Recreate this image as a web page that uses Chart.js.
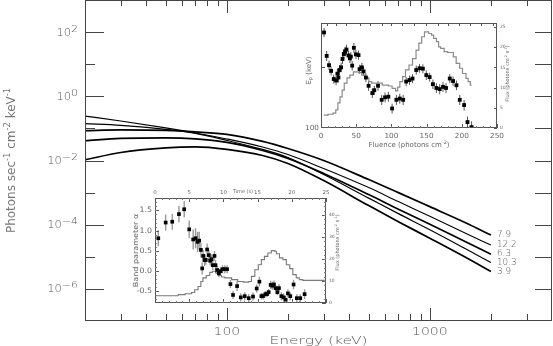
<!DOCTYPE html>
<html>
<head>
<meta charset="utf-8">
<script src="https://cdn.jsdelivr.net/npm/chart.js@4.4.0/dist/chart.umd.min.js"></script>
<style>
  body { margin: 0; background: #fff; }
  #wrap { position: relative; width: 553px; height: 346px; }
  canvas { position: absolute; }
</style>
</head>
<body>
<div id="wrap">
  <canvas id="main" width="553" height="346" style="left:0;top:0"></canvas>
  <canvas id="fluence" width="224" height="140" style="left:296px;top:14px"></canvas>
  <canvas id="alpha" width="232" height="130" style="left:120px;top:180px"></canvas>
</div>
<script>
// ---- main panel: Band spectra at 5 times ----
const energies = [20, 30, 50, 70, 100, 150, 200, 300, 500, 700, 1000, 1500, 2000];
const spec7_9  = [0.0848, 0.0898, 0.0866, 0.0778, 0.0649, 0.0393, 0.0237, 0.0100, 2.55e-3, 1.0e-3, 3.65e-4, 1.155e-4, 4.76e-5];
const spec12_2 = [0.242, 0.171, 0.104, 0.0723, 0.047, 0.0264, 0.0154, 0.00562, 1.43e-3, 5.24e-4, 1.83e-4, 5.42e-5, 2.32e-5];
const spec6_3  = [0.0413, 0.0487, 0.0505, 0.0470, 0.0365, 0.0205, 0.01155, 3.93e-3, 8.66e-4, 3.05e-4, 1.04e-4, 2.94e-5, 1.21e-5];
const spec10_3 = [0.140, 0.124, 0.0931, 0.0698, 0.0422, 0.0221, 0.0124, 0.00365, 6.73e-4, 2.21e-4, 6.98e-5, 1.78e-5, 6.64e-6];
const spec3_9  = [0.01052, 0.01778, 0.0246, 0.0264, 0.0221, 0.01433, 8.06e-3, 2.37e-3, 3.93e-4, 1.24e-4, 3.79e-5, 9.64e-6, 3.47e-6];
const specLabels = ['7.9', '12.2', '6.3', '10.3', '3.9'];
const specWidths = [1.7, 1.1, 1.7, 1.2, 1.7];

const energyMajor = [100, 1000];
const energyMinor = [30, 40, 50, 60, 70, 80, 90, 200, 300, 400, 500, 600, 700, 800, 900, 2000, 3000];
const photonMajor = [1e2, 1e0, 1e-2, 1e-4, 1e-6];
const photonMinor = [1e1, 1e-1, 1e-3, 1e-5];
const photonExp = ['2', '0', '\u22122', '\u22124', '\u22126'];

// ---- upper inset: Epeak vs fluence ----
const fluence = [4.3, 8.1, 11.4, 14.3, 18.1, 21.4, 23.3, 24.8, 26.2, 28.6,
  30.5, 32.4, 34.3, 36.2, 39.0, 41.0, 42.4, 44.3, 46.7, 49.6,
  53.3, 54.8, 58.1, 60.5, 63.8, 67.6, 72.9, 75.7, 81.0, 86.2,
  91.0, 95.7, 101.0, 107.1, 111.9, 116.7, 121.0, 125.7, 130.0, 135.3,
  140.0, 144.7, 149.6, 154.3, 159.0, 163.9, 168.6, 173.3, 177.6, 182.9,
  187.6, 192.4, 197.1, 203.3, 208.1, 213.9];
const epeak = [298, 228, 205, 192, 175, 172, 186, 178, 194, 200,
  220, 233, 240, 245, 229, 222, 226, 204, 250, 232,
  230, 196, 200, 191, 178, 162, 149, 154, 162, 138,
  142, 143, 125, 138, 140, 138, 170, 173, 176, 194,
  198, 197, 183, 179, 165, 158, 156, 160, 158, 176,
  171, 163, 138, 130, 107, 101];
const epeakErr = [16, 13, 11, 10, 9, 9, 10, 10, 11, 11,
  12, 13, 13, 14, 12, 12, 12, 11, 14, 12,
  12, 10, 11, 10, 9, 9, 8, 8, 9, 8,
  8, 8, 7, 8, 8, 8, 9, 9, 9, 10,
  10, 10, 10, 9, 9, 9, 9, 9, 9, 9,
  9, 9, 8, 8, 7, 7];
const fluxFluence = [4, 10, 17, 21, 24, 27, 30, 33, 37, 41, 46, 53, 58, 63, 68, 72, 87, 96, 101, 106,
  109, 112, 116, 120, 125, 130, 135, 139, 143, 147, 153, 157, 160, 164, 167, 170, 175, 180, 188, 192,
  197, 201, 206, 209, 212, 214];
const fluxA = [3.2, 3.4, 3.7, 4.5, 6.2, 7.7, 9.4, 11.1, 12.4, 13.1, 13.9, 13.7, 13.1, 12.4, 11.5, 11.1, 10.6, 10.4, 9.8, 9.2,
  10.1, 11.5, 12.7, 14.4, 15.6, 17.2, 19.3, 21.0, 22.6, 23.8, 23.4, 23.0, 22.2, 21.4, 20.1, 19.7, 18.9, 18.7, 17.6, 16.0,
  14.8, 13.5, 12.3, 11.5, 10.6, 10.6];
const fluenceTicks = [0, 50, 100, 150, 200, 250];
const fluenceTopTicks = [8, 22, 36, 55, 69, 86, 100, 115, 132, 149, 166, 180, 196, 211, 227, 244];
const fluxTicksA = [0, 5, 10, 15, 20, 25];

// ---- lower inset: alpha vs time ----
const times = [0.48, 1.56, 2.52, 3.50, 4.27, 5.00, 5.58, 5.93, 6.22, 6.46,
  6.71, 6.90, 7.04, 7.25, 7.43, 7.62, 7.87, 8.06, 8.27, 8.45,
  8.70, 8.85, 9.08, 9.33, 9.58, 9.87, 10.20, 10.54, 11.03, 11.41,
  12.0, 12.54, 13.12, 13.70, 14.33, 14.87, 15.26, 15.55, 15.79, 16.14,
  16.37, 16.62, 16.91, 17.16, 17.39, 17.64, 17.89, 18.12, 18.47, 18.80,
  19.10, 19.43, 19.78, 20.26, 20.74, 21.24, 21.87];
const alphaVals = [0.81, 1.20, 1.22, 1.41, 1.53, 1.03, 0.78, 0.81, 0.72, 0.75,
  0.52, 0.06, 0.37, 0.27, 0.27, 0.53, 0.39, 0.25, 0.29, 0.14,
  0.37, 0.14, 0.02, -0.06, -0.01, 0.04, 0.04, 0.04, -0.33, -0.60,
  -0.38, -0.66, -0.63, -0.68, -0.64, -0.44, -0.27, -0.63, -0.63, -0.58,
  -0.58, -0.53, -0.35, -0.37, -0.34, -0.43, -0.53, -0.43, -0.63, -0.66,
  -0.72, -0.56, -0.63, -0.34, -0.68, -0.68, -0.58];
const alphaErr = [0.20, 0.20, 0.20, 0.20, 0.20, 0.22, 0.25, 0.25, 0.25, 0.22,
  0.18, 0.15, 0.15, 0.15, 0.12, 0.15, 0.12, 0.12, 0.12, 0.12,
  0.12, 0.12, 0.10, 0.10, 0.10, 0.10, 0.10, 0.10, 0.10, 0.10,
  0.12, 0.10, 0.10, 0.10, 0.10, 0.10, 0.12, 0.08, 0.08, 0.08,
  0.08, 0.08, 0.10, 0.10, 0.10, 0.08, 0.08, 0.10, 0.10, 0.10,
  0.10, 0.10, 0.10, 0.12, 0.10, 0.10, 0.12];
const fluxTime = [0, 2.9, 3.4, 4.4, 5.35, 5.8, 6.3, 6.7, 7.0, 7.5, 8.0, 8.4, 8.85, 9.2, 9.7, 10.2, 11.2, 12.1, 12.9, 13.7,
  14.1, 14.6, 15.1, 15.55, 16.0, 16.5, 17.0, 17.5, 17.75, 18.2, 18.7, 19.2, 19.7, 20.15, 20.65, 21.1, 21.6, 24.8];
const fluxB = [3.3, 3.3, 3.8, 4.2, 4.8, 6.0, 7.5, 9.8, 11.4, 12.5, 13.9, 14.4, 13.6, 12.5, 11.8, 11.4, 10.6, 9.8, 9.5, 9.8,
  12.1, 15.1, 17.4, 19.7, 21.2, 22.7, 23.8, 23.5, 22.4, 20.5, 19.7, 17.4, 15.6, 12.9, 11.4, 10.6, 10.3, 10.3];
const timeTicks = [0, 5, 10, 15, 20, 25];
const alphaTicks = [1.5, 1.0, 0.5, 0.0, -0.5];
const alphaTickText = ['1.5', '1.0', '0.5', '0.0', '-0.5'];
const fluxTicksB = [0, 10, 20, 30, 40];

const TEXT = '#666';
const MAIN_TEXT = '#555';
const THIN = '300 ';

// text stretched sideways, like the wide vector font of the original
function wideText(ctx, text, x, y, size, align, stretch, color, weight) {
  ctx.save();
  ctx.font = (weight || '') + size + 'px "DejaVu Sans"';
  ctx.fillStyle = color || TEXT;
  ctx.textBaseline = 'middle';
  ctx.textAlign = 'left';
  const w = ctx.measureText(text).width * stretch;
  const x0 = align === 'center' ? x - w / 2 : align === 'right' ? x - w : x;
  ctx.translate(x0, y);
  ctx.scale(stretch, 1);
  ctx.fillText(text, 0, 0);
  ctx.restore();
}

// parts: [text, 0 normal | 1 superscript | -1 subscript]
function richText(ctx, parts, x, y, size, opts) {
  const o = Object.assign({align: 'center', rotate: 0, stretch: 1, color: TEXT, weight: '',
    family: '"DejaVu Sans"', sup: 0.7, raise: 0.35}, opts || {});
  ctx.save();
  ctx.translate(x, y);
  ctx.rotate(o.rotate);
  ctx.scale(o.stretch, 1);
  ctx.fillStyle = o.color;
  ctx.textBaseline = 'middle';
  ctx.textAlign = 'left';
  const fontFor = k => o.weight + (k ? size * o.sup : size) + 'px ' + o.family;
  let total = 0;
  parts.forEach(([t, k]) => { ctx.font = fontFor(k); total += ctx.measureText(t).width; });
  let cx = o.align === 'center' ? -total / 2 : o.align === 'right' ? -total : 0;
  parts.forEach(([t, k]) => {
    ctx.font = fontFor(k);
    ctx.fillText(t, cx, k === 1 ? -size * o.raise : k === -1 ? size * 0.3 : 0);
    cx += ctx.measureText(t).width;
  });
  ctx.restore();
}

function frame(ctx, a, color) {
  ctx.save();
  ctx.strokeStyle = color;
  ctx.lineWidth = 1;
  ctx.strokeRect(a.left + 0.5, a.top + 0.5, a.right - a.left - 1, a.bottom - a.top - 1);
  ctx.restore();
}

// inward tick marks placed through the chart's own scale
function tickMarks(ctx, scale, values, side, len, a, color) {
  ctx.save();
  ctx.strokeStyle = color || '#444';
  ctx.lineWidth = 1;
  ctx.beginPath();
  values.forEach(v => {
    const p = Math.round(scale.getPixelForValue(v)) + 0.5;
    if (side === 'bottom') { ctx.moveTo(p, a.bottom); ctx.lineTo(p, a.bottom - len); }
    if (side === 'top') { ctx.moveTo(p, a.top); ctx.lineTo(p, a.top + len); }
    if (side === 'left') { ctx.moveTo(a.left, p); ctx.lineTo(a.left + len, p); }
    if (side === 'right') { ctx.moveTo(a.right, p); ctx.lineTo(a.right - len, p); }
  });
  ctx.stroke();
  ctx.restore();
}

function errorBars(chart, xs, ys, errs, color, width) {
  const {ctx, chartArea: a, scales} = chart;
  ctx.save();
  ctx.beginPath();
  ctx.rect(a.left, a.top, a.right - a.left, a.bottom - a.top);
  ctx.clip();
  ctx.strokeStyle = color;
  ctx.lineWidth = width;
  ctx.beginPath();
  xs.forEach((xv, i) => {
    const px = scales.x.getPixelForValue(xv);
    ctx.moveTo(px, scales.y.getPixelForValue(ys[i] - errs[i]));
    ctx.lineTo(px, scales.y.getPixelForValue(ys[i] + errs[i]));
  });
  ctx.stroke();
  ctx.restore();
}

function everyStep(from, to, step) {
  const out = [];
  for (let v = from; v <= to + 1e-9; v += step) out.push(+v.toFixed(4));
  return out;
}

// ---------------- main chart ----------------
const spectra = [spec7_9, spec12_2, spec6_3, spec10_3, spec3_9];

const mainFrame = {
  id: 'mainFrame',
  afterDraw(chart) {
    const {ctx, chartArea: a, scales: {x, y}} = chart;
    frame(ctx, a, '#444');
    tickMarks(ctx, x, energyMajor, 'bottom', 13, a);
    tickMarks(ctx, x, energyMinor, 'bottom', 7, a);
    tickMarks(ctx, x, energyMajor, 'top', 13, a);
    tickMarks(ctx, x, energyMinor, 'top', 6, a);
    tickMarks(ctx, y, photonMajor, 'left', 19, a);
    tickMarks(ctx, y, photonMinor, 'left', 10, a);
    tickMarks(ctx, y, photonMajor, 'right', 17, a);
    tickMarks(ctx, y, photonMinor, 'right', 17, a);

    energyMajor.forEach(v => wideText(ctx, String(v), x.getPixelForValue(v), 332, 10, 'center', 1.4, MAIN_TEXT, THIN));
    wideText(ctx, 'Energy (keV)', (a.left + a.right) / 2, 341, 10, 'center', 1.55, MAIN_TEXT, THIN);

    photonMajor.forEach((v, i) => {
      richText(ctx, [['10', 0], [photonExp[i], 1]], 78, y.getPixelForValue(v) + 1, 10,
        {align: 'right', stretch: 1.15, sup: 0.95, raise: 0.4, color: MAIN_TEXT, weight: THIN});
    });
    richText(ctx, [['Photons sec', 0], ['-1', 1], [' cm', 0], ['-2', 1], [' keV', 0], ['-1', 1]],
      12, (a.top + a.bottom) / 2, 12, {rotate: -Math.PI / 2, color: '#777',
        family: '"Liberation Sans Narrow", "DejaVu Sans"'});

    spectra.forEach((s, i) => {
      const py = y.getPixelForValue(s[s.length - 1]);
      wideText(ctx, specLabels[i], 497, py, 8, 'left', 1.1, MAIN_TEXT, THIN);
    });
  }
};

new Chart(document.getElementById('main'), {
  type: 'line',
  data: {
    datasets: spectra.map((s, i) => ({
      label: specLabels[i],
      data: energies.map((e, j) => ({x: e, y: s[j]})),
      borderColor: '#000',
      borderWidth: specWidths[i],
      pointRadius: 0,
      cubicInterpolationMode: 'monotone',
      fill: false
    }))
  },
  options: {
    responsive: false,
    animation: false,
    layout: {padding: {left: 85, top: 0, right: 1, bottom: 25}},
    plugins: {legend: {display: false}, tooltip: {enabled: false}},
    scales: {
      x: {type: 'logarithmic', min: 20, max: 4000, display: false},
      y: {type: 'logarithmic', min: 1e-7, max: 1e3, display: false}
    }
  },
  plugins: [mainFrame]
});

// ---------------- upper inset ----------------
const fluencePlot = {
  id: 'fluencePlot',
  beforeDatasetsDraw(chart) {
    errorBars(chart, fluence, epeak, epeakErr, '#555', 1);
  },
  afterDraw(chart) {
    const {ctx, chartArea: a, scales: {x, y, y2}} = chart;
    frame(ctx, a, '#555');
    tickMarks(ctx, x, fluenceTicks, 'bottom', 4, a, '#555');
    tickMarks(ctx, x, everyStep(10, 240, 10), 'bottom', 2, a, '#777');
    tickMarks(ctx, x, fluenceTopTicks, 'top', 3, a, '#555');
    tickMarks(ctx, y, [200], 'left', 4, a, '#555');
    tickMarks(ctx, y2, fluxTicksA, 'right', 3, a, '#555');

    fluenceTicks.forEach(v => wideText(ctx, String(v), x.getPixelForValue(v), a.bottom + 8, 7, 'center', 1.05));
    richText(ctx, [['Fluence (photons cm', 0], ['-2', 1], [')', 0]], (a.left + a.right) / 2, a.bottom + 17, 7, {});
    wideText(ctx, '100', a.left - 2, y.getPixelForValue(100), 7, 'right', 1.05);
    richText(ctx, [['E', 0], ['p', -1], [' (keV)', 0]], a.left - 12, (a.top + a.bottom) / 2 - 5, 7,
      {rotate: -Math.PI / 2});
    fluxTicksA.forEach(v => wideText(ctx, String(v), a.right + 3, y2.getPixelForValue(v), 4.5, 'left', 1));
    richText(ctx, [['Flux (photons cm', 0], ['-2', 1], [' s', 0], ['-1', 1], [')', 0]],
      a.right + 11, (a.top + a.bottom) / 2 - 2, 5, {rotate: -Math.PI / 2, family: '"Liberation Sans Narrow", "DejaVu Sans"'});
  }
};

new Chart(document.getElementById('fluence'), {
  type: 'line',
  data: {
    datasets: [
      {
        data: fluence.map((f, i) => ({x: f, y: epeak[i]})),
        yAxisID: 'y',
        showLine: false,
        pointStyle: 'rect',
        pointRadius: 2.7,
        backgroundColor: '#000',
        borderWidth: 0
      },
      {
        data: fluxFluence.map((f, i) => ({x: f, y: fluxA[i]})),
        yAxisID: 'y2',
        stepped: true,
        borderColor: '#8a8a8a',
        borderWidth: 1.2,
        pointRadius: 0,
        fill: false
      }
    ]
  },
  options: {
    responsive: false,
    animation: false,
    layout: {padding: {left: 25, top: 9, right: 23, bottom: 26}},
    plugins: {legend: {display: false}, tooltip: {enabled: false}},
    scales: {
      x: {type: 'linear', min: 0, max: 250, display: false},
      y: {type: 'logarithmic', min: 100, max: 332, display: false},
      y2: {type: 'linear', min: 0, max: 26, display: false}
    }
  },
  plugins: [fluencePlot]
});

// ---------------- lower inset ----------------
const alphaPlot = {
  id: 'alphaPlot',
  beforeDatasetsDraw(chart) {
    errorBars(chart, times, alphaVals, alphaErr, '#9a9a9a', 1.4);
  },
  afterDraw(chart) {
    const {ctx, chartArea: a, scales: {x, y, y2}} = chart;
    frame(ctx, a, '#555');
    tickMarks(ctx, x, timeTicks, 'top', 4, a, '#555');
    tickMarks(ctx, x, everyStep(1, 24, 1), 'top', 2, a, '#777');
    tickMarks(ctx, x, timeTicks, 'bottom', 4, a, '#555');
    tickMarks(ctx, x, everyStep(1, 24, 1), 'bottom', 2, a, '#777');
    tickMarks(ctx, y, alphaTicks, 'left', 4, a, '#555');
    tickMarks(ctx, y, everyStep(-0.7, 1.7, 0.1), 'left', 2, a, '#777');
    tickMarks(ctx, y2, fluxTicksB, 'right', 4, a, '#555');
    tickMarks(ctx, y2, everyStep(2, 46, 2), 'right', 2, a, '#777');

    timeTicks.forEach(v => wideText(ctx, String(v), x.getPixelForValue(v), a.top - 5, 5, 'center', 1.1));
    wideText(ctx, 'Time (s)', x.getPixelForValue(12.85), a.top - 6, 5, 'center', 1.0);
    alphaTicks.forEach((v, i) => wideText(ctx, alphaTickText[i], a.left - 3, y.getPixelForValue(v), 7.5, 'right', 1.05));
    richText(ctx, [['Band parameter \u03b1', 0]], a.left - 19, (a.top + a.bottom) / 2, 7,
      {rotate: -Math.PI / 2, stretch: 1.15});
    fluxTicksB.forEach(v => wideText(ctx, String(v), a.right + 3, y2.getPixelForValue(v), 4.5, 'left', 1));
    richText(ctx, [['Flux (photons cm', 0], ['-2', 1], [' s', 0], ['-1', 1], [')', 0]],
      a.right + 12, (a.top + a.bottom) / 2 - 8, 5, {rotate: -Math.PI / 2, family: '"Liberation Sans Narrow", "DejaVu Sans"'});
  }
};

new Chart(document.getElementById('alpha'), {
  type: 'line',
  data: {
    datasets: [
      {
        data: times.map((t, i) => ({x: t, y: alphaVals[i]})),
        yAxisID: 'y',
        showLine: false,
        pointStyle: 'rect',
        pointRadius: 2.6,
        backgroundColor: '#000',
        borderWidth: 0
      },
      {
        data: fluxTime.map((t, i) => ({x: t, y: fluxB[i]})),
        yAxisID: 'y2',
        stepped: true,
        borderColor: '#7a7a7a',
        borderWidth: 1.1,
        pointRadius: 0,
        fill: false
      }
    ]
  },
  options: {
    responsive: false,
    animation: false,
    layout: {padding: {left: 35, top: 18, right: 26, bottom: 7}},
    plugins: {legend: {display: false}, tooltip: {enabled: false}},
    scales: {
      x: {type: 'linear', min: 0, max: 25, display: false},
      y: {type: 'linear', min: -0.8, max: 1.81, display: false},
      y2: {type: 'linear', min: 0, max: 47.7, display: false}
    }
  },
  plugins: [alphaPlot]
});
</script>
</body>
</html>
